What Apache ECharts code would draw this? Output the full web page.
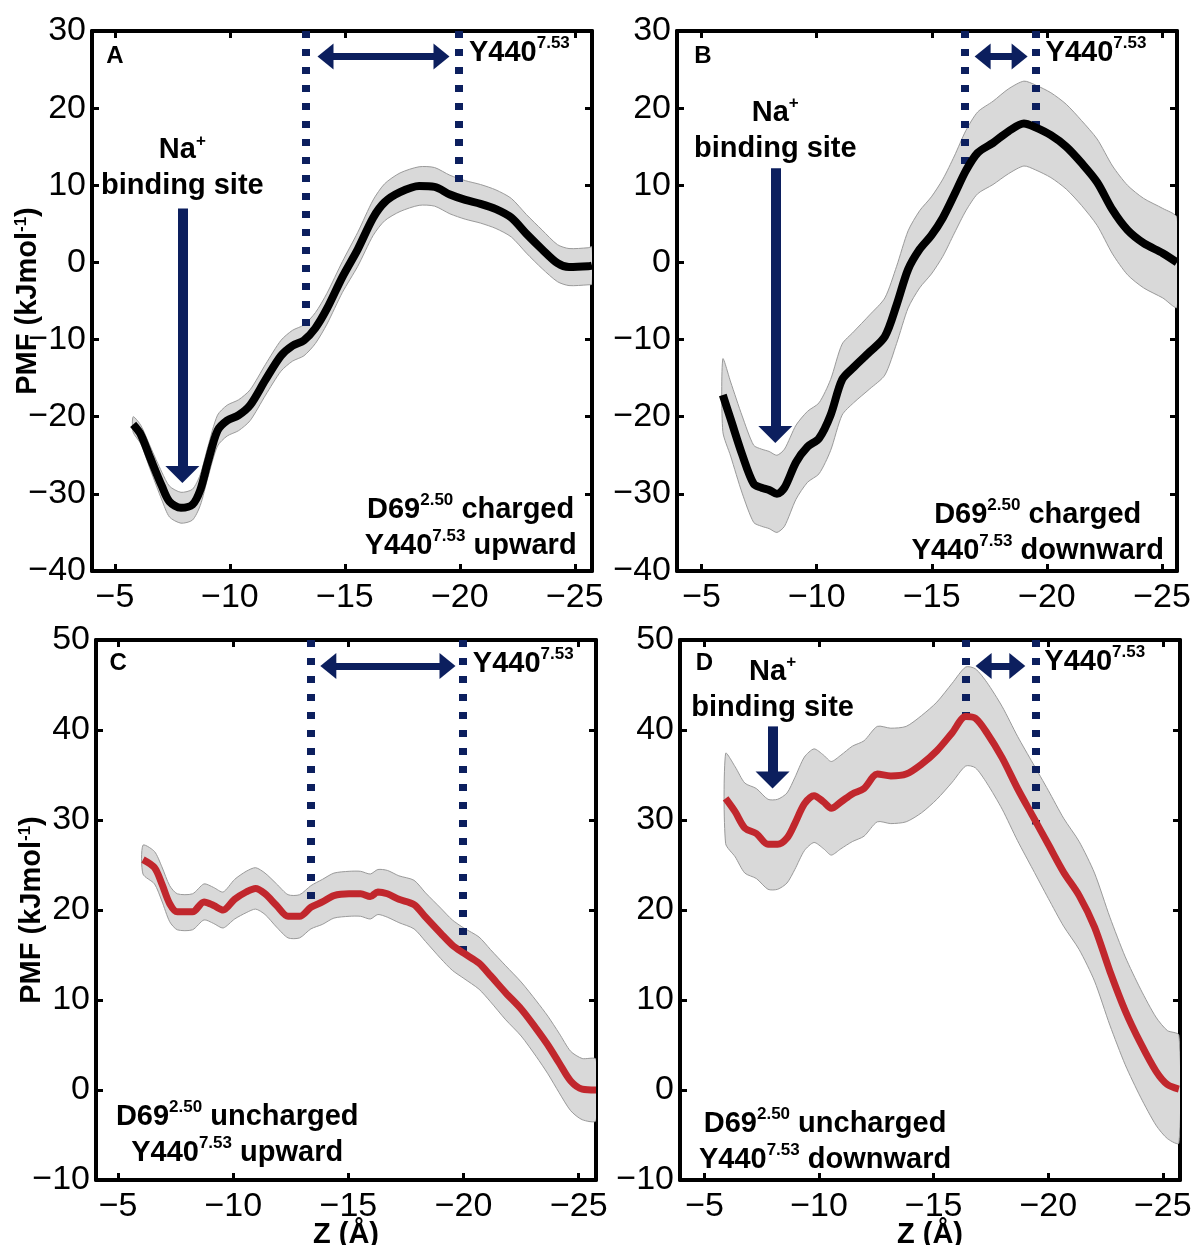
<!DOCTYPE html>
<html>
<head>
<meta charset="utf-8">
<script src="https://cdn.jsdelivr.net/npm/echarts@6/dist/echarts.min.js"></script>
<style>
  html, body { margin: 0; background: #fff; }
  #chart { width: 1195px; height: 1245px; }
</style>
</head>
<body>
<div id="chart"></div>
<script>
// ---- data ----
// A: D69 charged, Y440 upward
const zA = [-5.79, -6.12, -6.54, -7.04, -7.37, -7.87, -8.37, -8.71, -9.04, -9.46, -9.88, -10.38, -10.88, -11.55,
  -12.22, -12.72, -13.22, -13.72, -14.22, -14.89, -15.56, -16.23, -16.73, -17.4, -18.23, -18.9, -19.57, -20.24,
  -20.9, -21.57, -22.24, -22.9, -23.58, -24.25, -24.75, -25.58, -25.75];
const pmfA = [-21.0, -22.3, -25.4, -29.0, -31.0, -31.8, -31.4, -29.5, -25.9, -21.8, -20.5, -19.8, -18.5, -15.2,
  -12.1, -10.8, -10.1, -8.5, -6.0, -1.9, 1.7, 5.8, 7.8, 9.1, 9.9, 9.8, 8.8, 8.1,
  7.6, 6.9, 5.8, 3.7, 1.7, -0.1, -0.6, -0.5, -0.4];
const errA = [1.0, 1.2, 1.5, 1.8, 2.0, 2.0, 2.0, 2.0, 2.0, 2.0, 2.0, 2.0, 2.0, 2.0,
  2.0, 2.0, 2.0, 2.0, 2.0, 2.0, 2.2, 2.3, 2.4, 2.5, 2.5, 2.5, 2.5, 2.5,
  2.5, 2.5, 2.5, 2.5, 2.5, 2.4, 2.4, 2.4, 2.4];

// B: D69 charged, Y440 downward
const zB = [-5.92, -6.26, -6.76, -7.26, -7.6, -7.93, -8.27, -8.6, -9.1, -9.6, -10.1, -10.6, -11.1, -11.6,
  -12.3, -12.96, -13.47, -13.97, -14.47, -14.98, -15.48, -15.98, -16.48, -16.99, -17.66, -18.33, -19.0, -19.5,
  -20.17, -20.84, -21.5, -22.18, -22.85, -23.5, -24.2, -25.03, -25.65];
const pmfB = [-17.2, -20.3, -24.9, -28.7, -29.2, -29.5, -30.0, -29.2, -25.9, -23.9, -22.8, -19.8, -15.2, -13.6,
  -11.6, -9.6, -5.5, -0.9, 1.7, 3.5, 5.8, 8.8, 11.9, 14.2, 15.5, 17.0, 18.0, 17.5,
  16.5, 15.0, 12.9, 10.4, 6.8, 4.2, 2.5, 1.2, 0.0];
const errB = [4.7, 4.8, 5.0, 5.0, 5.0, 5.0, 5.0, 5.0, 4.8, 4.6, 4.6, 4.6, 4.6, 4.6,
  4.8, 5.0, 5.0, 5.0, 5.0, 5.0, 5.0, 5.0, 5.2, 5.3, 5.4, 5.5, 5.5, 5.5,
  5.5, 5.5, 5.5, 5.6, 5.7, 5.8, 5.8, 5.8, 5.8];

// C: D69 uncharged, Y440 upward
const zC = [-6.08, -6.58, -6.9, -7.24, -7.57, -8.23, -8.73, -9.15, -9.56, -10.06, -10.56, -10.97, -11.38, -11.88,
  -12.38, -12.88, -13.37, -13.87, -14.37, -15.03, -15.53, -15.95, -16.28, -16.69, -17.19, -17.85, -18.35, -19.01,
  -19.51, -20.01, -20.67, -21.17, -21.83, -22.5, -23.16, -23.66, -24.15, -24.65, -25.15, -25.75];
const pmfC = [25.6, 24.7, 22.9, 20.7, 19.8, 19.8, 20.9, 20.5, 20.0, 21.2, 22.0, 22.4, 21.8, 20.5,
  19.3, 19.3, 20.3, 20.9, 21.6, 21.8, 21.8, 21.5, 22.0, 21.8, 21.2, 20.6, 19.2, 17.4,
  16.1, 15.2, 14.1, 12.7, 10.8, 9.0, 6.8, 5.0, 3.0, 1.0, 0.1, 0.0];
const errC = [1.6, 1.8, 1.9, 2.0, 2.0, 2.0, 2.0, 2.0, 2.0, 2.2, 2.3, 2.3, 2.3, 2.4,
  2.4, 2.4, 2.4, 2.5, 2.5, 2.5, 2.5, 2.5, 2.5, 2.6, 2.6, 2.7, 2.7, 2.8,
  2.8, 2.8, 2.9, 2.9, 3.0, 3.0, 3.1, 3.2, 3.3, 3.3, 3.4, 3.4];

// D: D69 uncharged, Y440 downward
const zD = [-5.92, -6.34, -6.76, -7.26, -7.77, -8.19, -8.6, -8.94, -9.36, -9.78, -10.2, -10.53, -10.95, -11.45,
  -11.96, -12.54, -13.13, -13.8, -14.47, -15.14, -15.81, -16.4, -16.82, -17.32, -17.99, -18.66, -19.33, -20.0,
  -20.67, -21.35, -22.02, -22.69, -23.36, -24.03, -24.7, -25.2, -25.7];
const pmfD = [32.4, 30.9, 29.1, 28.5, 27.3, 27.3, 28.0, 29.6, 31.8, 32.7, 32.0, 31.3, 32.0, 32.9,
  33.5, 35.1, 34.9, 35.1, 36.2, 37.7, 39.7, 41.5, 41.3, 39.7, 36.9, 33.5, 30.4, 27.3,
  24.2, 21.6, 18.1, 13.2, 8.8, 5.2, 2.1, 0.6, 0.1];
const errD = [5.0, 5.0, 5.0, 5.0, 5.0, 5.0, 5.0, 5.1, 5.2, 5.2, 5.2, 5.2, 5.2, 5.3,
  5.3, 5.3, 5.3, 5.3, 5.4, 5.4, 5.5, 5.5, 5.5, 5.6, 5.7, 5.8, 5.9, 6.0,
  6.0, 6.0, 6.0, 6.0, 6.0, 6.0, 6.0, 6.0, 6.0];

const xTickStep = 5;

// ---- styling ----
const FONT = "'Liberation Sans', Arial, sans-serif";
const NAVY = '#0c1f5e';
const W = 500, H = 540;

const rich = {
  big: { fontFamily: FONT, fontSize: 29, fontWeight: 'bold', color: '#000', lineHeight: 36 },
  sup: { fontFamily: FONT, fontSize: 17, fontWeight: 'bold', color: '#000', lineHeight: 20, verticalAlign: 'top' },
  let: { fontFamily: FONT, fontSize: 24, fontWeight: 'bold', color: '#000' }
};
function sup(base, s, rest) {
  return '{big|' + base + '}{sup|' + s + '}' + (rest ? '{big|' + rest + '}' : '');
}

const panels = [
  { z: zA, pmf: pmfA, err: errA, color: '#000', lw: 8, left: 92, top: 31,
    xMin: -25.75, xMax: -4, yMin: -40, yMax: 30, yName: true, xName: false,
    letter: ['A', -5.0, 26.7],
    vlines: [[-13.3, -10.0], [-19.95, 9.0]],
    dbl: [-13.81, -19.55, 26.7],
    y440: [-20.4, 27.2],
    na: { x: -7.93, textY: 12.2, from: 7.0, tip: -28.6 },
    cond: [-20.47, -34.4, ' charged', ' upward'] },
  { z: zB, pmf: pmfB, err: errB, color: '#000', lw: 8, left: 677, top: 31,
    xMin: -25.65, xMax: -3.93, yMin: -40, yMax: 30, yName: false, xName: false,
    letter: ['B', -5.06, 26.7],
    vlines: [[-16.45, 12.0], [-19.5, 17.5]],
    dbl: [-16.86, -19.16, 26.7],
    y440: [-19.94, 27.2],
    na: { x: -8.2, textY: 17.0, from: 12.2, tip: -23.4 },
    cond: [-19.6, -35.1, ' charged', ' downward'] },
  { z: zC, pmf: pmfC, err: errC, color: '#c1272d', lw: 7, left: 96, top: 640,
    xMin: -25.75, xMax: -4.04, yMin: -10, yMax: 50, yName: true, xName: true,
    letter: ['C', -5.0, 47.4],
    vlines: [[-13.35, 20.3], [-19.97, 15.4]],
    dbl: [-13.78, -19.65, 47.1],
    y440: [-20.4, 47.3],
    na: null,
    cond: [-10.17, -5.0, ' uncharged', ' upward'] },
  { z: zD, pmf: pmfD, err: errD, color: '#c1272d', lw: 7, left: 680, top: 640,
    xMin: -25.75, xMax: -3.93, yMin: -10, yMax: 50, yName: false, xName: true,
    letter: ['D', -5.0, 47.4],
    vlines: [[-16.4, 41.3], [-19.45, 29.5]],
    dbl: [-16.83, -19.0, 47.1],
    y440: [-19.83, 47.6],
    na: { x: -7.97, textY: 44.5, from: 40.4, tip: 33.5 },
    cond: [-10.26, -5.8, ' uncharged', ' downward'] }
];

function zip(xs, ys) { return xs.map((x, i) => [x, ys[i]]); }
function minus(v) { return String(v).replace('-', '\u2212'); }

const option = { animation: false, backgroundColor: '#fff', grid: [], xAxis: [], yAxis: [], series: [] };

const axisLine = { show: true, onZero: false, lineStyle: { color: '#000', width: 4 } };
const axisTick = { show: true, inside: true, length: 7, lineStyle: { color: '#000', width: 3 } };
const labelFont = { fontFamily: FONT, fontSize: 34, color: '#000' };
const nameFont = { fontFamily: FONT, fontSize: 29, fontWeight: 'bold', color: '#000' };

panels.forEach((p, i) => {
  option.grid.push({ left: p.left, top: p.top, width: W, height: H,
    containLabel: false, outerBoundsMode: 'none' });
  const xu = (p.xMax - p.xMin) / W;   // data units per px
  const yu = (p.yMax - p.yMin) / H;

  const xBase = { type: 'value', gridIndex: i, inverse: true, min: p.xMin, max: p.xMax,
    axisLine, axisTick, splitLine: { show: false } };
  option.xAxis.push(Object.assign({}, xBase, {
    position: 'bottom',
    axisLabel: Object.assign({ margin: 10,
      formatter: v => Math.abs(v % xTickStep) < 1e-6 ? minus(v) : '' }, labelFont),
    name: p.xName ? 'Z (\u00c5)' : '', nameLocation: 'middle', nameGap: 40, nameMoveOverlap: false,
    nameTextStyle: nameFont
  }));
  option.xAxis.push(Object.assign({}, xBase, { position: 'top', axisLabel: { show: false } }));

  const yBase = { type: 'value', gridIndex: i, min: p.yMin, max: p.yMax, interval: 10,
    axisLine, axisTick, splitLine: { show: false } };
  option.yAxis.push(Object.assign({}, yBase, {
    position: 'left',
    axisLabel: Object.assign({ margin: 6, formatter: minus }, labelFont),
    name: p.yName ? 'PMF (kJmol{s|-1})' : '', nameLocation: 'middle', nameGap: 50, nameMoveOverlap: false,
    nameTextStyle: Object.assign({}, nameFont, {
      rich: { s: { fontFamily: FONT, fontSize: 17, fontWeight: 'bold', color: '#000', verticalAlign: 'top', lineHeight: 18 } }
    })
  }));
  option.yAxis.push(Object.assign({}, yBase, { position: 'right', axisLabel: { show: false } }));

  const xi = 2 * i, yi = 2 * i;

  // uncertainty band: pmf +/- err, drawn through the axes
  option.series.push({
    type: 'custom', xAxisIndex: xi, yAxisIndex: yi, silent: true, z: 2, clip: true,
    data: [[p.z[0], p.pmf[0]]],
    renderItem: (params, api) => {
      const upper = p.z.map((x, k) => api.coord([x, p.pmf[k] + p.err[k]]));
      const lower = p.z.map((x, k) => api.coord([x, p.pmf[k] - p.err[k]])).reverse();
      return {
        type: 'polygon',
        shape: { points: upper.concat(lower), smooth: 0.25 },
        style: { fill: '#d9d9d9', stroke: '#9a9a9a', lineWidth: 1 }
      };
    }
  });

  // annotations
  const lines = [];
  p.vlines.forEach(([x, yEnd]) => {
    lines.push([
      { coord: [x, p.yMax], symbol: 'none', lineStyle: { color: NAVY, width: 8, type: [7, 11] } },
      { coord: [x, yEnd], symbol: 'none' }
    ]);
  });
  const headL = 16, dx = headL / 2 * xu;
  lines.push([
    { coord: [p.dbl[0] - dx, p.dbl[2]], symbol: 'triangle', symbolSize: [26, headL],
      lineStyle: { color: NAVY, width: 7, type: 'solid' } },
    { coord: [p.dbl[1] + dx, p.dbl[2]], symbol: 'triangle', symbolSize: [26, headL] }
  ]);
  if (p.na) {
    const hl = 17;
    lines.push([
      { coord: [p.na.x, p.na.from], symbol: 'none', lineStyle: { color: NAVY, width: 10, type: 'solid' } },
      { coord: [p.na.x, p.na.tip + hl / 2 * yu], symbol: 'triangle', symbolSize: [34, hl] }
    ]);
  }

  const points = [
    { coord: [p.letter[1], p.letter[2]], label: { formatter: () => '{let|' + p.letter[0] + '}' } },
    { coord: p.y440, label: { align: 'left', formatter: () => sup('Y440', '7.53') } },
    { coord: [p.cond[0], p.cond[1]], label: { align: 'center',
      formatter: () => sup('D69', '2.50', p.cond[2]) + '\n' + sup('Y440', '7.53', p.cond[3]) } }
  ];
  if (p.na) {
    points.push({ coord: [p.na.x, p.na.textY], label: { align: 'center',
      formatter: () => sup('Na', '+') + '\n{big|binding site}' } });
  }

  option.series.push({
    type: 'line', xAxisIndex: xi, yAxisIndex: yi,
    data: zip(p.z, p.pmf),
    symbol: 'none', smooth: 0.3, z: 6, silent: true,
    lineStyle: { color: p.color, width: p.lw },
    markLine: {
      silent: true, z: 4, symbol: 'none', label: { show: false },
      emphasis: { disabled: true }, animation: false,
      data: lines
    },
    markPoint: {
      silent: true, z: 8, symbol: 'rect', symbolSize: 1,
      itemStyle: { color: 'rgba(0,0,0,0)' },
      label: { show: true, position: 'inside', verticalAlign: 'middle', rich },
      emphasis: { disabled: true }, animation: false,
      data: points
    }
  });
});

const chart = echarts.init(document.getElementById('chart'), null, { renderer: 'canvas' });
chart.setOption(option);
</script>
</body>
</html>
